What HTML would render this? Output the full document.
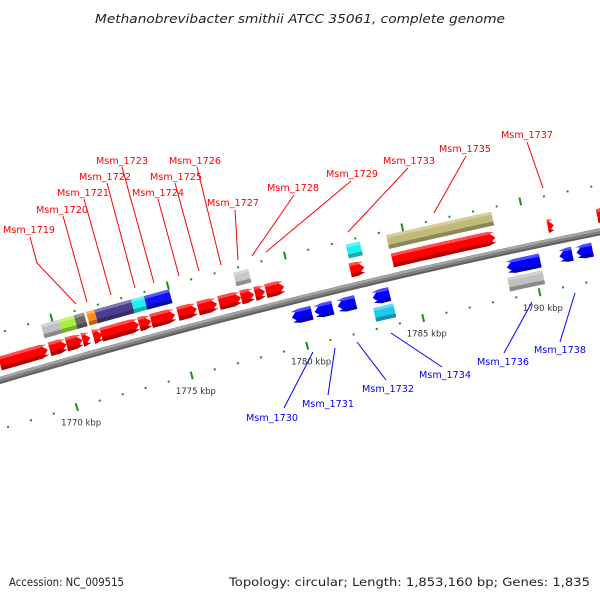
<!DOCTYPE html>
<html><head><meta charset="utf-8"><style>
html,body{margin:0;padding:0;background:#fff;}
svg{display:block;font-family:"DejaVu Sans","Liberation Sans",sans-serif;}
</style></head><body>
<svg id="map" width="600" height="600" viewBox="0 0 600 600" xmlns="http://www.w3.org/2000/svg">
<rect width="600" height="600" fill="#fff"/>
<text x="300" y="23" text-anchor="middle" font-style="italic" font-size="12.5" fill="#222" textLength="410" lengthAdjust="spacingAndGlyphs">Methanobrevibacter smithii ATCC 35061, complete genome</text>
<g id="ticks"></g>
<g id="backbone"></g>
<g id="features"></g>
<g id="callouts"></g>
<text x="9" y="586" font-size="11.5" fill="#222" textLength="115" lengthAdjust="spacingAndGlyphs">Accession: NC_009515</text>
<text x="590" y="586" font-size="11.5" fill="#222" text-anchor="end" textLength="361" lengthAdjust="spacingAndGlyphs">Topology: circular; Length: 1,853,160 bp; Genes: 1,835</text>
</svg>
<script>
// genome positions (kbp)
const fwdStart=[1767.42,1769.57,1770.3,1770.99,1771.46,1771.8,1773.43,1773.95,1775.1,1775.97,1776.87,1777.81,1778.41,1778.88,1782.49,1784.29,1790.9,1793.0];
const fwdEnd  =[1769.49,1770.3,1770.99,1771.33,1771.85,1773.43,1773.95,1774.98,1775.92,1776.78,1777.81,1778.37,1778.84,1779.66,1783.09,1788.67,1791.15,1793.5];
const cogStart=[1769.5,1770.27,1770.92,1771.44,1771.8,1773.37,1773.93,1777.75,1782.55,1784.27];
const cogEnd  =[1770.27,1771.0,1771.35,1771.83,1773.5,1773.97,1775.0,1778.39,1783.15,1788.73];
const cogColor=["#c0c0c0","#a8f03a","#6a6a6a","#ff8c1a","#4a3f8e","#22f0f0","#1010f0","#c8c8c8","#22f0f0","#c2bb78"];
const revStart=[1779.66,1780.64,1781.63,1783.13,1788.88,1791.12,1791.85];
const revEnd  =[1780.52,1781.42,1782.4,1783.86,1790.3,1791.67,1792.53];
const rev2Start=[1783.05,1788.8];
const rev2End  =[1783.91,1790.3];
const rev2Color=["#20c8f0","#c0c0c0"];
const tickLabels=["1770 kbp","1775 kbp","1780 kbp","1785 kbp","1790 kbp"];
const tickKbp=[1770,1775,1780,1785,1790];

const NS="http://www.w3.org/2000/svg";
const C={x:2000,y:7172}, R=7080, GL=1853.16;
function ang(k){return (-105.87+(k-1770)*360/GL)*Math.PI/180;}
function pt(k,r){const a=ang(k);return [C.x+(R+r)*Math.cos(a), C.y+(R+r)*Math.sin(a)];}
function arcPts(s,e,r){const n=Math.max(2,Math.ceil((e-s)*2)+1);const p=[];for(let i=0;i<n;i++){p.push(pt(s+(e-s)*i/(n-1),r));}return p;}
function shape(s,e,r0,r1,strand){
  const head=Math.min(0.3,e-s);let p=[];
  if(strand===1){p=p.concat(arcPts(s,e-head,r1));p.push(pt(e,(r0+r1)/2));p=p.concat(arcPts(s,e-head,r0).reverse());}
  else if(strand===-1){p.push(pt(s,(r0+r1)/2));p=p.concat(arcPts(s+head,e,r1));p=p.concat(arcPts(s+head,e,r0).reverse());}
  else{p=p.concat(arcPts(s,e,r1));p=p.concat(arcPts(s,e,r0).reverse());}
  return "M"+p.map(q=>q[0].toFixed(1)+","+q[1].toFixed(1)).join("L")+"Z";
}
function shade(c,f){const n=parseInt(c.slice(1),16);let r=n>>16,g=(n>>8)&255,b=n&255;
  const t=x=>Math.max(0,Math.min(255,Math.round(f<1?x*f:x+(255-x)*(f-1))));return "rgb("+t(r)+","+t(g)+","+t(b)+")";}
function mk(tag,attrs,parent){const el=document.createElementNS(NS,tag);for(const k in attrs)el.setAttribute(k,attrs[k]);parent.appendChild(el);return el;}
function feature(parent,s,e,r0,r1,strand,color,name){
  const g=mk("g",{},parent);
  
  
  mk("path",{d:shape(s,e,r0,r1,strand),fill:color},g);
  mk("path",{d:shape(s,e,r0,r0+4,strand),fill:shade(color,0.72)},g);
  mk("path",{d:shape(s,e,r1-3,r1,strand),fill:shade(color,1.3)},g);
}
// backbone
const bb=document.getElementById("backbone");
function arcPath(r){const p=arcPts(1766,1795,r);return "M"+p.map(q=>q[0].toFixed(1)+","+q[1].toFixed(1)).join("L");}
const bbl=mk("path",{d:arcPath(0),stroke:"#808080","stroke-width":7,fill:"none"},bb);


mk("path",{d:arcPath(2),stroke:"#a8a8a8","stroke-width":2,fill:"none"},bb);
mk("path",{d:arcPath(-2.5),stroke:"#606060","stroke-width":2,fill:"none"},bb);
// ticks
const tg=document.getElementById("ticks");
for(let k=1766;k<=1795;k++){
  const major=k%5===0;
  [46,-47].forEach(r=>{
    const a=pt(k,r-(major?4:1)),b=pt(k,r+(major?4:1));
    const ln=mk("line",{x1:a[0],y1:a[1],x2:b[0],y2:b[1],stroke:"#1f8a1f","stroke-width":2},tg);
    
    
  });
}
tickKbp.forEach((k,i)=>{
  const p=pt(k,-63);
  const t=mk("text",{x:p[0].toFixed(1),y:(p[1]+3).toFixed(1),"text-anchor":"middle","font-size":"8.5",fill:"#333"},tg);
  t.textContent=tickLabels[i];
  
  
});
// features
const fg=document.getElementById("features");
fwdStart.forEach((s,i)=>feature(fg,s,fwdEnd[i],9,23,1,"#ff0000","forward-gene"));
cogStart.forEach((s,i)=>feature(fg,s,cogEnd[i],28,42,0,cogColor[i],"cog-feature"));
revStart.forEach((s,i)=>feature(fg,s,revEnd[i],-23,-9,-1,"#0000ff","reverse-gene"));
rev2Start.forEach((s,i)=>feature(fg,s,rev2End[i],-40,-26,0,rev2Color[i],"reverse-cog-feature"));
// callouts
const cg=document.getElementById("callouts");
const redLabels=[["Msm_1719",3,233,[[30,237],[37,263],[76,304]]],["Msm_1720",36,213,[[63,216],[87,302]]],["Msm_1721",57,196,[[84,199],[111,295]]],["Msm_1722",79,180,[[107,183],[135,288]]],["Msm_1723",96,164,[[122,167],[154,283]]],["Msm_1724",132,196,[[158,199],[179,276]]],["Msm_1725",150,180,[[175,183],[199,271]]],["Msm_1726",169,164,[[197,167],[221,265]]],["Msm_1727",207,206,[[235,210],[238,260]]],["Msm_1728",267,191,[[294,195],[252,256]]],["Msm_1729",326,177,[[351,181],[266,252]]],["Msm_1733",383,164,[[408,168],[348,232]]],["Msm_1735",439,152,[[466,156],[434,213]]],["Msm_1737",501,138,[[527,142],[543,188]]]];
const blueLabels=[["Msm_1730",246,421,[[284,408],[313,352]]],["Msm_1731",302,407,[[328,395],[335,348]]],["Msm_1732",362,392,[[386,380],[357,342]]],["Msm_1734",419,378,[[442,367],[391,333]]],["Msm_1736",477,365,[[504,353],[532,302]]],["Msm_1738",534,353,[[560,342],[575,293]]]];
function callout(L,col){
  const g=mk("g",{},cg);
  
  
  mk("polyline",{points:L[3].map(q=>q.join(",")).join(" "),stroke:col,"stroke-width":1,fill:"none"},g);
  const t=mk("text",{x:L[1],y:L[2],"font-size":"10",fill:col,textLength:"52",lengthAdjust:"spacingAndGlyphs"},g);
  t.textContent=L[0];
}
redLabels.forEach(L=>callout(L,"#ff0000"));
blueLabels.forEach(L=>callout(L,"#0000ff"));
</script>
</body></html>
